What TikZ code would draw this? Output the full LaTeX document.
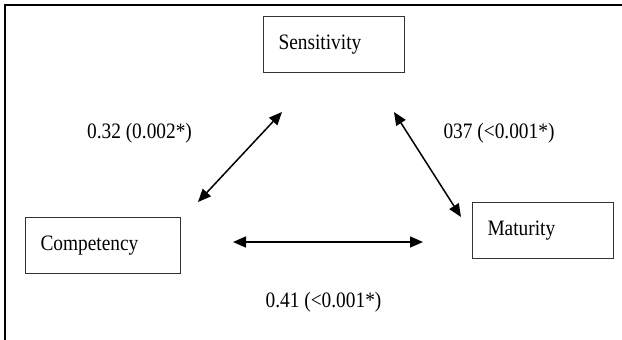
\documentclass[tikz,border=0pt]{standalone}
\usepackage{fontspec}
\setmainfont{Liberation Serif}
\usetikzlibrary{arrows.meta}
\newcommand{\sqz}[1]{\scalebox{0.88}[1]{#1}}
\begin{document}
\begin{tikzpicture}[x=1pt,y=-1pt,
  box/.style={draw=black!80,line width=1pt,rectangle,anchor=north west,minimum height=#1,inner xsep=15pt,align=left,font=\fontsize{22}{24}\selectfont},
  lbl/.style={font=\fontsize{22}{24}\selectfont,inner sep=0pt},
  dbl/.style={line width=1.5pt,{Triangle[length=13pt,width=11pt]}-{Triangle[length=13pt,width=11pt]}}]
\useasboundingbox (0,0) rectangle (622,340);
\draw[line width=2pt] (5,340) -- (5,5) -- (622,5);
\node[box=56pt,text width=111pt] (sens) at (263,16) {\sqz{Sensitivity}};
\node[box=56pt,text width=125pt] (comp) at (25,217) {\sqz{Competency}};
\node[box=56pt,text width=111pt] (mat) at (472,202) {\sqz{Maturity}};
\coordinate (a1) at (198,202);
\coordinate (a2) at (282,112);
\coordinate (b1) at (394,112);
\coordinate (b2) at (461,217);
\coordinate (c1) at (233,242);
\coordinate (c2) at (423,242);
\draw[dbl] (a1) -- (a2);
\draw[dbl] (b1) -- (b2);
\draw[dbl] (c1) -- (c2);
\node[lbl] (l1) at (139.5,133) {\sqz{0.32 (0.002*)}};
\node[lbl] (l2) at (499,133) {\sqz{037 (<0.001*)}};
\node[lbl] (l3) at (323.5,302) {\sqz{0.41 (<0.001*)}};
\end{tikzpicture}
\end{document}
